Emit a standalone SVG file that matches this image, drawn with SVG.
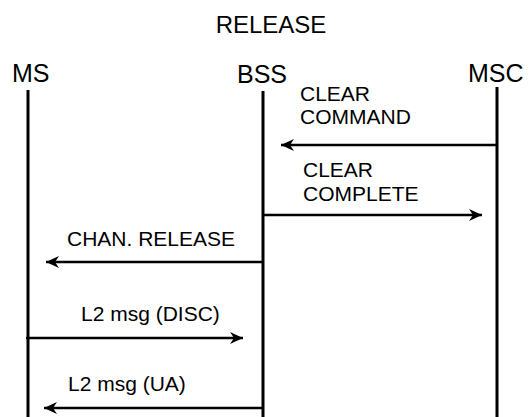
<svg xmlns="http://www.w3.org/2000/svg" width="530" height="417" viewBox="0 0 530 417">
<style>
text{font-family:"Liberation Sans",Arial,sans-serif;fill:#000}
.h{font-size:25px}
.t{font-size:24px}
.l{font-size:21px}
.life{stroke:#000;stroke-width:3;fill:none}
.msg{stroke:#000;stroke-width:2.5;fill:none;marker-end:url(#ah)}
</style>
<defs>
<marker id="ah" markerUnits="userSpaceOnUse" markerWidth="16" markerHeight="14" viewBox="0 0 16 14" refX="14" refY="7" orient="auto">
<path d="M1,1 L14,7 L1,13 L5,7 Z" fill="#000"/>
</marker>
</defs>
<text class="t" x="271" y="33" text-anchor="middle">RELEASE</text>
<g id="MS">
<text class="h" x="12" y="82">MS</text>
<line class="life" x1="28" y1="90" x2="28" y2="417"/>
</g>
<g id="BSS">
<text class="h" x="237" y="83">BSS</text>
<line class="life" x1="263" y1="91" x2="263" y2="417"/>
</g>
<g id="MSC">
<text class="h" x="468" y="82">MSC</text>
<line class="life" x1="497" y1="87" x2="497" y2="417"/>
</g>
<g id="connectors">
<line class="msg" x1="497" y1="145" x2="281" y2="145"/>
<text class="l" x="300" y="101">CLEAR</text>
<text class="l" x="300" y="124">COMMAND</text>
<line class="msg" x1="263" y1="215" x2="482" y2="215"/>
<text class="l" x="303" y="177">CLEAR</text>
<text class="l" x="303" y="201">COMPLETE</text>
<line class="msg" x1="263" y1="262" x2="46" y2="262"/>
<text class="l" x="67" y="246">CHAN. RELEASE</text>
<line class="msg" x1="26" y1="338" x2="243" y2="338"/>
<text class="l" x="81" y="321">L2 msg (DISC)</text>
<line class="msg" x1="263" y1="408" x2="44" y2="408"/>
<text class="l" x="68" y="391">L2 msg (UA)</text>
</g>
</svg>
